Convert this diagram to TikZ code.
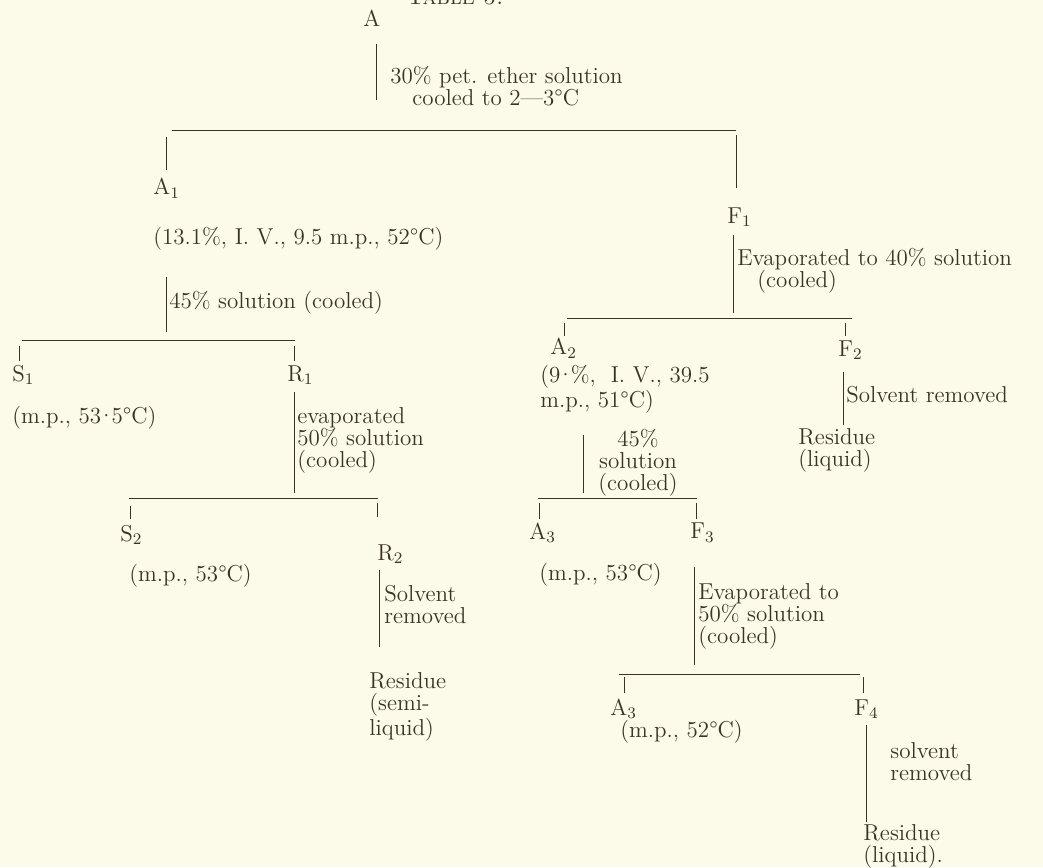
\documentclass[tikz,border=0pt]{standalone}
\usepackage{xcolor}
\definecolor{paper}{RGB}{252,250,232}
\definecolor{ink}{RGB}{58,52,40}
\newcommand{\mdot}{\kern-1.8pt·\kern-1.8pt}
\begin{document}
\begin{tikzpicture}[x=0.5pt,y=-0.5pt,
  lbl/.style={inner sep=0pt, text=ink, font=\fontsize{11.5}{11}\selectfont, anchor=west, align=left},
  ln/.style={draw=ink, line width=0.5pt}]
\useasboundingbox (0,0) rectangle (1043,867);
\fill[paper] (0,0) rectangle (1043,867);
\clip (0,0) rectangle (1043,867);

% title (cut off at top)
\node[lbl, anchor=base] (title) at (455,4) {\textsc{Table 5.}};

% A
\node[lbl] (A) at (363,18) {A};
\coordinate (a1) at (376,44); \coordinate (a2) at (376,100);
\draw[ln] (a1) -- (a2);
\node[lbl] (tA) at (390,86) {30\% pet. ether solution\\\hspace*{11pt}cooled to 2---3°C};
\coordinate (b0l) at (172,130); \coordinate (b0r) at (736,130);
\draw[ln] (b0l) -- (b0r);
\coordinate (d1a) at (166,137); \coordinate (d1b) at (166,170);
\draw[ln] (d1a) -- (d1b);
\coordinate (d2a) at (736,135); \coordinate (d2b) at (736,188);
\draw[ln] (d2a) -- (d2b);

% A1 branch
\node[lbl] (A1) at (153,188) {A\textsubscript{1}};
\node[lbl] (A1d) at (153,239) {(13.1\%, I. V., 9.5 m.p., 52°C)};
\coordinate (e1) at (166,277); \coordinate (e2) at (166,332);
\draw[ln] (e1) -- (e2);
\node[lbl] (tA1) at (169,303) {45\% solution (cooled)};
\coordinate (b1l) at (22,340); \coordinate (b1r) at (295,340);
\draw[ln] (b1l) -- (b1r);
\draw[ln] (19,346) coordinate (s1a) -- (19,361) coordinate (s1b);
\draw[ln] (294,346) coordinate (r1a) -- (294,361) coordinate (r1b);
\node[lbl] (S1) at (12,375) {S\textsubscript{1}};
\node[lbl] (R1) at (287,375) {R\textsubscript{1}};
\node[lbl] (S1d) at (12,418) {(m.p., 53\mdot5°C)};
\draw[ln] (294,392) coordinate (f1) -- (294,493) coordinate (f2);
\node[lbl] (tR1) at (297,440) {evaporated\\50\% solution\\(cooled)};
\coordinate (b2l) at (129,498); \coordinate (b2r) at (378,498);
\draw[ln] (b2l) -- (b2r);
\draw[ln] (130,506) coordinate (s2a) -- (130,519) coordinate (s2b);
\draw[ln] (377,503) coordinate (r2a) -- (377,517) coordinate (r2b);
\node[lbl] (S2) at (120,535) {S\textsubscript{2}};
\node[lbl] (R2) at (377,554) {R\textsubscript{2}};
\node[lbl] (S2d) at (129,576) {(m.p., 53°C)};
\draw[ln] (379,570) coordinate (g1) -- (379,647) coordinate (g2);
\node[lbl] (tR2) at (384,605) {Solvent\\removed};
\node[lbl] (Res1) at (369,707) {Residue\\(semi-\\liquid)};

% F1 branch
\node[lbl] (F1) at (727,217) {F\textsubscript{1}};
\draw[ln] (733,235) coordinate (h1) -- (733,313) coordinate (h2);
\node[lbl] (tF1) at (737,271) {Evaporated to 40\% solution\\\hspace*{10pt}(cooled)};
\coordinate (b3l) at (567,318); \coordinate (b3r) at (852,318);
\draw[ln] (b3l) -- (b3r);
\draw[ln] (564,323) coordinate (a2a) -- (564,336) coordinate (a2b);
\draw[ln] (845,323) coordinate (f2a) -- (845,336) coordinate (f2b);
\node[lbl] (A2) at (550,348) {A\textsubscript{2}};
\node[lbl] (F2) at (838,350) {F\textsubscript{2}};
\node[lbl] (A2d) at (540,389) {(9\mdot\%, \ I. V., 39.5\\m.p., 51°C)};
\draw[ln] (843,372) coordinate (k1) -- (843,425) coordinate (k2);
\node[lbl] (tF2) at (846,395) {Solvent removed};
\node[lbl] (Res2) at (798,450) {Residue\\(liquid)};
\draw[ln] (583,435) coordinate (m1) -- (583,493) coordinate (m2);
\node[lbl, anchor=center, align=center] (tA2) at (638,463) {45\%\\solution\\(cooled)};
\coordinate (b4l) at (538,498); \coordinate (b4r) at (697,498);
\draw[ln] (b4l) -- (b4r);
\draw[ln] (539,503) coordinate (a3a) -- (539,519) coordinate (a3b);
\draw[ln] (696,503) coordinate (f3a) -- (696,519) coordinate (f3b);
\node[lbl] (A3) at (529,533) {A\textsubscript{3}};
\node[lbl] (F3) at (690,533) {F\textsubscript{3}};
\node[lbl] (A3d) at (539,575) {(m.p., 53°C)};
\draw[ln] (694,567) coordinate (n1) -- (694,665) coordinate (n2);
\node[lbl] (tF3) at (698,616) {Evaporated to\\50\% solution\\(cooled)};
\coordinate (b5l) at (619,674); \coordinate (b5r) at (860,674);
\draw[ln] (b5l) -- (b5r);
\draw[ln] (624,677) coordinate (a4a) -- (624,693) coordinate (a4b);
\draw[ln] (863,677) coordinate (f4a) -- (863,693) coordinate (f4b);
\node[lbl] (A3b) at (610,709) {A\textsubscript{3}};
\node[lbl] (F4) at (854,709) {F\textsubscript{4}};
\node[lbl] (A3bd) at (620,732) {(m.p., 52°C)};
\draw[ln] (866,725) coordinate (p1) -- (866,822) coordinate (p2);
\node[lbl] (tF4) at (890,762) {solvent\\removed};
\node[lbl] (Res3) at (863,846) {Residue\\(liquid).};
\end{tikzpicture}
\end{document}
